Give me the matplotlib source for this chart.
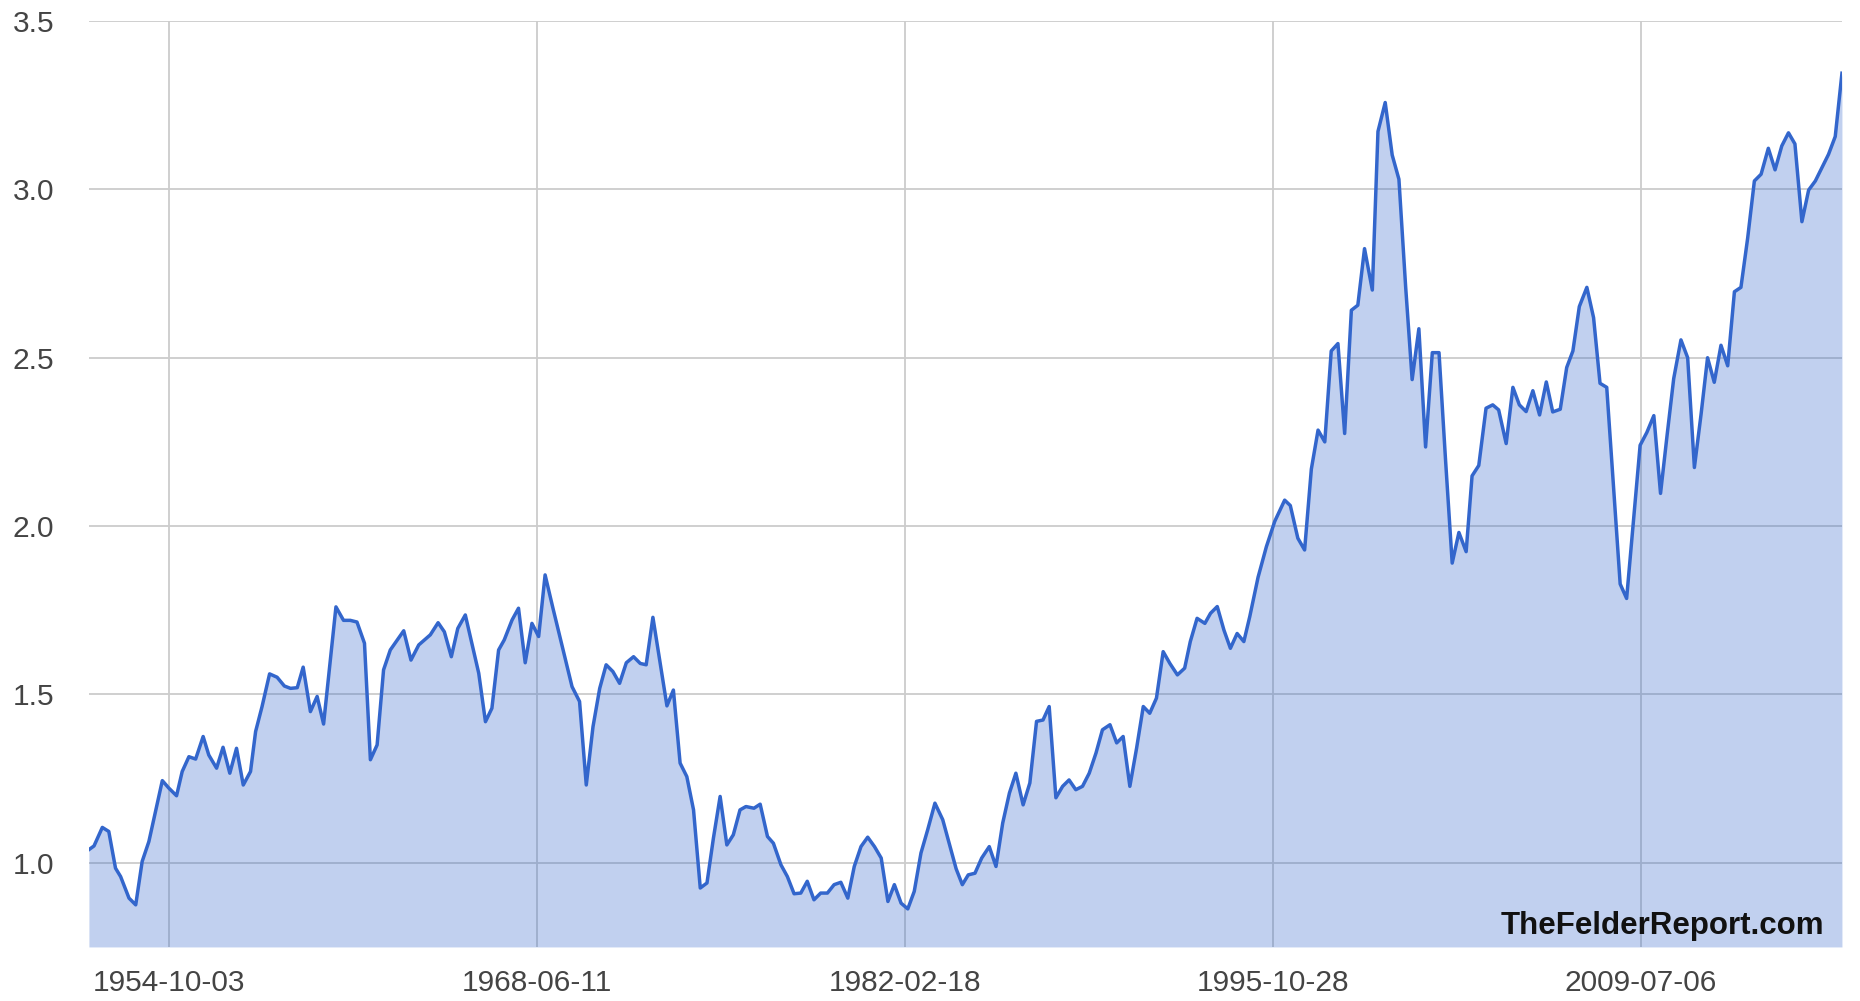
import datetime as dt
import matplotlib
matplotlib.use("Agg")
import matplotlib.pyplot as plt
import matplotlib.dates as mdates

# decimal year of each vertex
years = [
    1951.78, 1951.97, 1952.28, 1952.52, 1952.77, 1952.96, 1953.27, 1953.52, 1953.76, 1954.01,
    1954.51, 1954.75, 1955.04, 1955.25, 1955.50, 1955.75, 1956.03, 1956.24, 1956.53, 1956.77,
    1957.02, 1957.27, 1957.52, 1957.79, 1957.98, 1958.22, 1958.50, 1958.78, 1959.05, 1959.28,
    1959.53, 1959.75, 1960.02, 1960.27, 1960.51, 1960.97, 1961.25, 1961.50, 1961.75, 1962.03,
    1962.25, 1962.50, 1962.74, 1962.99, 1963.49, 1963.76, 1964.05, 1964.48, 1964.77, 1965.00,
    1965.26, 1965.50, 1965.78, 1966.28, 1966.53, 1966.77, 1967.02, 1967.23, 1967.52, 1967.76,
    1968.01, 1968.26, 1968.51, 1968.75, 1969.04, 1969.75, 1970.03, 1970.28, 1970.53, 1970.78,
    1971.02, 1971.27, 1971.52, 1971.77, 1972.04, 1972.29, 1972.51, 1972.76, 1973.28, 1973.52,
    1973.77, 1974.02, 1974.27, 1974.52, 1974.77, 1975.01, 1975.26, 1975.51, 1975.75, 1976.00,
    1976.22, 1976.52, 1976.75, 1977.02, 1977.24, 1977.52, 1977.76, 1978.01, 1978.26, 1978.50,
    1978.75, 1979.00, 1979.25, 1979.50, 1979.75, 1980.01, 1980.25, 1980.50, 1980.75, 1981.00,
    1981.25, 1981.50, 1981.74, 1981.99, 1982.24, 1982.48, 1982.73, 1982.98, 1983.25, 1983.54,
    1983.78, 1984.04, 1984.27, 1984.49, 1984.74, 1984.99, 1985.27, 1985.52, 1985.77, 1986.02,
    1986.26, 1986.53, 1986.78, 1987.03, 1987.27, 1987.50, 1987.75, 1988.00, 1988.24, 1988.49,
    1988.74, 1988.99, 1989.24, 1989.48, 1989.76, 1990.01, 1990.25, 1990.50, 1990.75, 1991.00,
    1991.24, 1991.49, 1991.74, 1991.99, 1992.27, 1992.54, 1992.75, 1993.00, 1993.29, 1993.50,
    1993.75, 1994.00, 1994.24, 1994.49, 1994.74, 1994.96, 1995.27, 1995.58, 1995.89, 1996.26,
    1996.47, 1996.75, 1997.00, 1997.25, 1997.50, 1997.75, 1997.99, 1998.24, 1998.49, 1998.74,
    1998.98, 1999.23, 1999.52, 1999.73, 2000.00, 2000.26, 2000.51, 2000.76, 2001.00, 2001.25,
    2001.50, 2001.75, 2002.00, 2002.24, 2002.49, 2002.74, 2003.01, 2003.23, 2003.48, 2003.75,
    2004.00, 2004.22, 2004.50, 2004.75, 2004.99, 2005.24, 2005.49, 2005.74, 2005.99, 2006.23,
    2006.51, 2006.75, 2006.98, 2007.22, 2007.50, 2007.75, 2007.99, 2008.24, 2008.74, 2008.98,
    2009.48, 2009.73, 2009.99, 2010.24, 2010.48, 2010.73, 2011.00, 2011.25, 2011.50, 2011.75,
    2011.99, 2012.24, 2012.49, 2012.74, 2012.99, 2013.23, 2013.48, 2013.73, 2013.98, 2014.25,
    2014.50, 2014.75, 2015.00, 2015.24, 2015.50, 2015.75, 2016.00, 2016.24, 2016.49, 2016.74,
    2016.99,
]

values = [
    1.039, 1.050, 1.105, 1.093, 0.984, 0.959, 0.895, 0.875, 1.004, 1.063,
    1.244, 1.222, 1.199, 1.271, 1.315, 1.308, 1.375, 1.320, 1.281, 1.343,
    1.266, 1.340, 1.231, 1.271, 1.390, 1.464, 1.561, 1.551, 1.525, 1.518,
    1.520, 1.581, 1.449, 1.494, 1.412, 1.760, 1.720, 1.720, 1.715, 1.652,
    1.306, 1.350, 1.573, 1.632, 1.689, 1.602, 1.647, 1.677, 1.713, 1.686,
    1.612, 1.696, 1.736, 1.563, 1.419, 1.459, 1.632, 1.662, 1.721, 1.756,
    1.594, 1.711, 1.672, 1.855, 1.756, 1.523, 1.479, 1.231, 1.404, 1.518,
    1.588, 1.568, 1.533, 1.594, 1.612, 1.592, 1.588, 1.729, 1.466, 1.513,
    1.296, 1.256, 1.157, 0.925, 0.940, 1.073, 1.197, 1.053, 1.083, 1.157,
    1.167, 1.162, 1.174, 1.078, 1.058, 0.994, 0.959, 0.908, 0.910, 0.945,
    0.890, 0.910, 0.910, 0.935, 0.942, 0.895, 0.989, 1.048, 1.076, 1.048,
    1.014, 0.885, 0.935, 0.880, 0.863, 0.915, 1.029, 1.098, 1.177, 1.128,
    1.058, 0.982, 0.935, 0.964, 0.969, 1.014, 1.048, 0.989, 1.118, 1.207,
    1.266, 1.172, 1.237, 1.420, 1.424, 1.464, 1.193, 1.227, 1.246, 1.217,
    1.227, 1.266, 1.326, 1.395, 1.410, 1.356, 1.375, 1.227, 1.340, 1.464,
    1.444, 1.489, 1.627, 1.592, 1.558, 1.578, 1.657, 1.726, 1.711, 1.741,
    1.761, 1.691, 1.637, 1.681, 1.657, 1.731, 1.848, 1.939, 2.014, 2.077,
    2.061, 1.964, 1.929, 2.169, 2.285, 2.250, 2.520, 2.542, 2.275, 2.641,
    2.656, 2.824, 2.701, 3.172, 3.258, 3.102, 3.030, 2.711, 2.435, 2.586,
    2.235, 2.515, 2.515, 2.200, 1.890, 1.981, 1.924, 2.149, 2.180, 2.350,
    2.360, 2.345, 2.245, 2.412, 2.360, 2.340, 2.402, 2.330, 2.428, 2.339,
    2.347, 2.471, 2.520, 2.652, 2.709, 2.619, 2.424, 2.412, 1.828, 1.785,
    2.240, 2.278, 2.328, 2.097, 2.267, 2.438, 2.553, 2.500, 2.174, 2.333,
    2.500, 2.427, 2.537, 2.476, 2.696, 2.709, 2.855, 3.025, 3.045, 3.122,
    3.058, 3.129, 3.168, 3.135, 2.904, 2.998, 3.025, 3.064, 3.104, 3.157,
    3.345,
]

tick_dates = ["1954-10-03", "1968-06-11", "1982-02-18", "1995-10-28", "2009-07-06"]
y_ticks = [1.0, 1.5, 2.0, 2.5, 3.0, 3.5]


def to_date(y):
    base = int(y)
    return dt.datetime(base, 1, 1) + dt.timedelta(days=(y - base) * 365.25)


dates = [to_date(y) for y in years]

plt.rcParams['font.family'] = ['Liberation Sans', 'DejaVu Sans']

fig = plt.figure(figsize=(18.6, 10.01), dpi=100)
ax = fig.add_axes([0.0478, 0.054, 0.9425, 0.925])

line_col = "#3366cc"
ax.fill_between(dates, values, 0.75, color=line_col, alpha=0.3, linewidth=0, zorder=2)
ax.plot(dates, values, color=line_col, linewidth=2.5, zorder=3)

ax.set_xlim(dates[0], dates[-1])
ax.set_ylim(0.75, 3.5)

ticks = [dt.datetime.strptime(d, "%Y-%m-%d") for d in tick_dates]
ax.set_xticks(ticks)
ax.set_xticklabels(tick_dates)
ax.set_yticks(y_ticks)
ax.set_yticklabels([f"{v:.1f}" for v in y_ticks])

ax.grid(True, color="#cccccc", linewidth=1.3, zorder=1)
ax.set_axisbelow(True)
for s in ax.spines.values():
    s.set_visible(False)
ax.tick_params(axis="both", length=0, labelsize=21.5, labelcolor="#444444")
ax.tick_params(axis="x", pad=16)
ax.tick_params(axis="y", pad=25)

ax.text(0.99, 0.006, "TheFelderReport.com", transform=ax.transAxes,
        ha="right", va="bottom", fontsize=22.5, fontweight="bold", color="#111111", zorder=4)

fig.savefig("out.png", dpi=100)
